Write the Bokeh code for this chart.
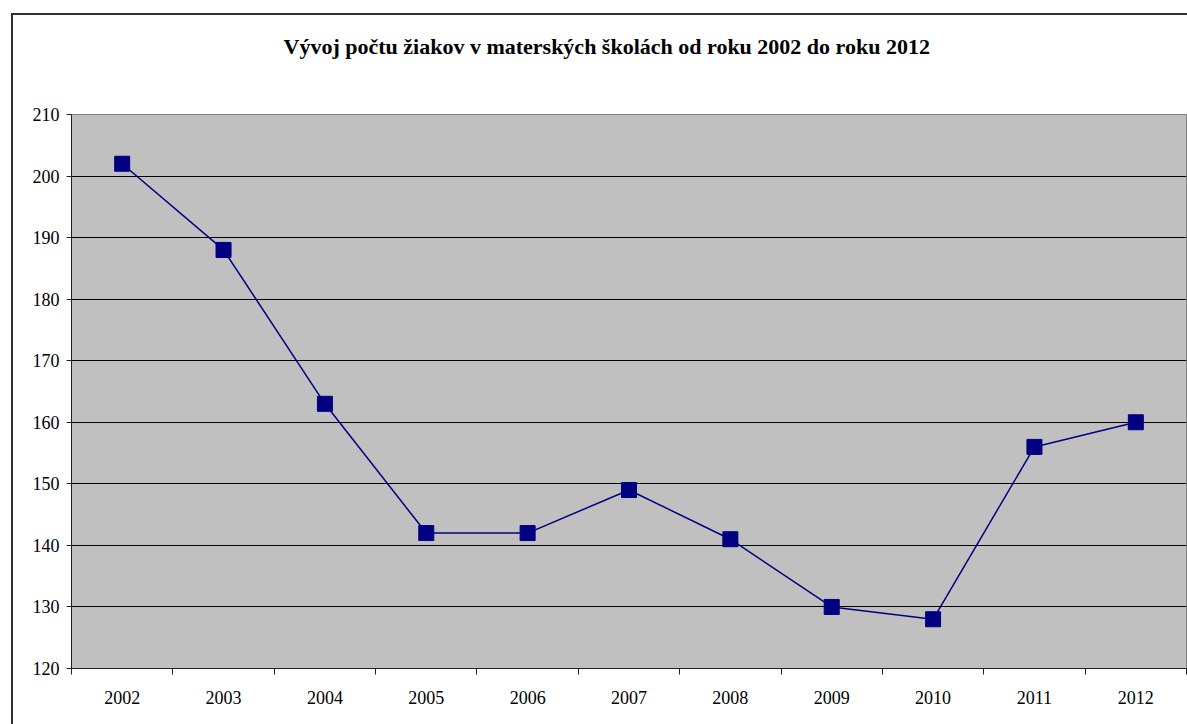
from bokeh.plotting import figure
from bokeh.models import Range1d, FixedTicker, InlineStyleSheet, Title
from bokeh.embed import file_html
from bokeh.resources import INLINE

# ---- data ----
years = ["2002", "2003", "2004", "2005", "2006", "2007", "2008", "2009", "2010", "2011", "2012"]
pupils = [202, 188, 163, 142, 142, 149, 141, 130, 128, 156, 160]
y_ticks = [120, 130, 140, 150, 160, 170, 180, 190, 200, 210]
title_text = "Vývoj počtu žiakov v materských školách  od roku 2002 do roku 2012"

xs = [i + 0.5 for i in range(len(years))]

SERIF = "Liberation Serif"

p = figure(width=1187, height=724, output_backend="svg", toolbar_location=None,
           x_range=Range1d(0, len(years)), y_range=Range1d(120, 210))
p.min_border_left = 71
p.min_border_top = 114
p.min_border_right = 1
p.min_border_bottom = 56
p.background_fill_color = "#C0C0C0"
p.border_fill_color = "white"
p.outline_line_color = "#808080"
p.outline_line_width = 1

# title
p.title.text = title_text
p.title.text_font = SERIF
p.title.text_font_size = "22px"
p.title.text_font_style = "bold"
p.title.text_color = "black"
p.title.align = "left"
p.title.offset = 212
p.title.standoff = 10

# empty spacer between the title and the plot area
p.add_layout(Title(text=" ", text_font_size="1px", standoff=48), "above")

# y axis
p.yaxis.ticker = FixedTicker(ticks=y_ticks)
p.yaxis.major_tick_in = 0
p.yaxis.major_tick_out = 5
p.yaxis.minor_tick_line_color = None
p.yaxis.axis_line_color = "#202020"
p.yaxis.major_tick_line_color = "#202020"
p.yaxis.major_label_text_font = SERIF
p.yaxis.major_label_text_font_size = "18px"
p.yaxis.major_label_text_color = "black"
p.yaxis.major_label_standoff = 7

# x axis: labels at category centres, ticks at boundaries
p.xaxis.ticker = FixedTicker(ticks=xs, minor_ticks=list(range(len(years) + 1)))
p.xaxis.major_label_overrides = {x: y for x, y in zip(xs, years)}
p.xaxis.major_tick_in = 0
p.xaxis.major_tick_out = 0
p.xaxis.minor_tick_in = 0
p.xaxis.minor_tick_out = 6
p.xaxis.minor_tick_line_color = "#202020"
p.xaxis.axis_line_color = "#202020"
p.xaxis.major_label_text_font = SERIF
p.xaxis.major_label_text_font_size = "18px"
p.xaxis.major_label_text_color = "black"
p.xaxis.major_label_standoff = 16

p.xgrid.grid_line_color = None
p.ygrid.grid_line_color = "black"
p.ygrid.grid_line_width = 1

p.line(xs, pupils, line_color="#000080", line_width=1.5)
p.scatter(xs, pupils, marker="square", size=15, fill_color="#000080", line_color="#000080")

# outer chart frame (left and top edges visible, as in the reference crop)
p.stylesheets = [InlineStyleSheet(css="""
:host { position: relative; }
:host::after {
  content: "";
  position: absolute;
  left: 11px; top: 13px; right: 0px; bottom: 0px;
  border-left: 2px solid #303030;
  border-top: 2px solid #303030;
  pointer-events: none;
  z-index: 10;
}
""")]

open("out.html", "w").write(file_html(p, INLINE))
